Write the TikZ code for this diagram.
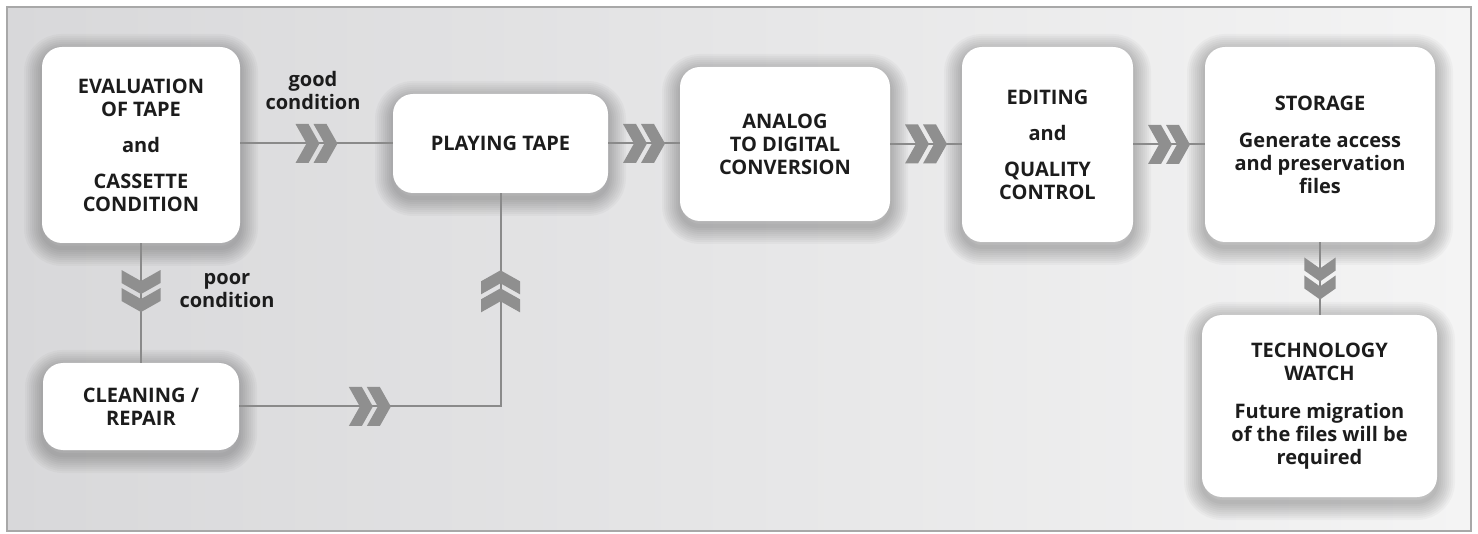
\documentclass[tikz,border=0pt]{standalone}
\usepackage{fontspec}
\setmainfont{Open Sans}
\usetikzlibrary{calc}

\definecolor{bgl}{HTML}{D8D8DA}
\definecolor{bgr}{HTML}{F4F4F4}
\definecolor{rim}{HTML}{A8A8A8}
\definecolor{lnk}{HTML}{8A8A8A}
\definecolor{chv}{HTML}{8F8F8F}
\definecolor{txt}{HTML}{1C1C1C}

\begin{document}
\begin{tikzpicture}[x=1pt, y=-1pt,
  glow/.style = {preaction={draw=black, draw opacity=.028, line width=#1,
    transform canvas={yshift=-5pt}}},
  box/.style = {shape=rectangle, rounded corners=20pt, fill=white,
    align=center, inner sep=0pt, text=txt,
    font=\bfseries\fontsize{20}{23}\selectfont,
    glow=36pt, glow=32pt, glow=28pt, glow=24pt, glow=20pt,
    glow=16pt, glow=12pt, glow=8pt, glow=4pt},
  lbl/.style = {align=center, text=txt,
    font=\bfseries\fontsize{20}{23}\selectfont},
  link/.style = {draw=lnk, line width=2pt},
  chev/.pic = {
    \fill[chv] (-21,-19.5) -- (-8,-19.5) -- (3,0) -- (-8,19.5) -- (-21,19.5) -- (-10,0) -- cycle;
    \fill[chv] (-3,-19.5) -- (10,-19.5) -- (21,0) -- (10,19.5) -- (-3,19.5) -- (8,0) -- cycle;}]
  \useasboundingbox (0,0) rectangle (1478,534);
  \fill[left color=bgl, right color=bgr] (7,7) rectangle (1471,531);
  \draw[rim, line width=2pt] (7,7) rectangle (1471,531);

  % boxes
  \node[box, minimum width=198pt, minimum height=196pt] (eval) at (141,145)
    {EVALUATION\\OF TAPE\\[13pt]and\\[13pt]CASSETTE\\CONDITION};
  \node[box, minimum width=196pt, minimum height=87pt] (clean) at (141,406.5)
    {CLEANING /\\REPAIR};
  \node[box, minimum width=215pt, minimum height=99pt] (play) at (500.5,143.5)
    {PLAYING TAPE};
  \node[box, minimum width=210pt, minimum height=154pt] (ana) at (785,144)
    {ANALOG\\TO DIGITAL\\CONVERSION};
  \node[box, minimum width=171pt, minimum height=195pt] (edit) at (1047.5,144.5)
    {EDITING\\[13pt]and\\[13pt]QUALITY\\CONTROL};
  \node[box, minimum width=230pt, minimum height=195pt] (stor) at (1320,144.5)
    {STORAGE\\[14pt]Generate access\\and preservation\\files};
  \node[box, minimum width=235pt, minimum height=182pt] (tech) at (1319.5,406)
    {TECHNOLOGY\\WATCH\\[15pt]Future migration\\of the files will be\\required};

  \node[lbl] (good) at (313,91) {good\\condition};
  \node[lbl] (poor) at (227,291) {poor\\condition};

  % links
  \draw[link] (eval.east |- play.west) -- (play.west);
  \draw[link] (play.east) -- (ana.west |- play.east);
  \draw[link] (ana.east) -- (edit.west |- ana.east);
  \draw[link] (edit.east) -- (stor.west);
  \draw[link] (stor.south) -- (tech.north -| stor.south);
  \draw[link] (eval.south) -- (clean.north);
  \draw[link] (clean.east) -- (clean.east -| play.south) -- (play.south);

  \pic at ($(eval.east |- play.west)!.5!(play.west)$) {chev};
  \pic at ($(play.east)!.5!(ana.west |- play.east)$) {chev};
  \pic at ($(ana.east)!.5!(edit.west |- ana.east)$) {chev};
  \pic at ($(edit.east)!.5!(stor.west)$) {chev};
  \pic[rotate=-90, yscale=.8] at ($(stor.south)!.5!(tech.north -| stor.south)$) {chev};
  \pic[rotate=-90] at ($(eval.south)!.4!(clean.north)$) {chev};
  \pic at ($(clean.east)!.5!(clean.east -| play.south)$) {chev};
  \pic[rotate=90] at ($(play.south)!.46!(play.south |- clean.east)$) {chev};
\end{tikzpicture}
\end{document}
